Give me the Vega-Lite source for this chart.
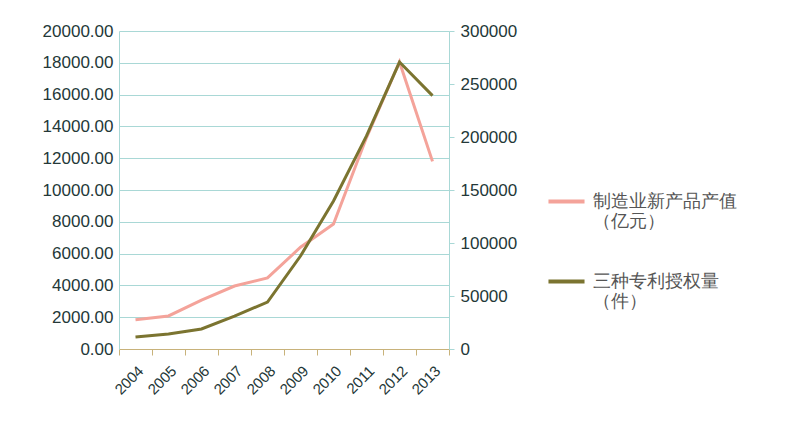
{
  "$schema": "https://vega.github.io/schema/vega-lite/v6.json",
  "width": 330,
  "height": 318,
  "padding": {"left": 42, "top": 22, "right": 5, "bottom": 5},
  "background": "white",
  "config": {
    "font": "Liberation Sans",
    "view": {"stroke": null},
    "axis": {"labelFont": "Liberation Sans", "labelColor": "#243838", "labelFontSize": 17, "gridColor": "#a9d8d6", "domainColor": "#a9d8d6", "tickColor": "#a9d8d6", "title": null}
  },
  "data": {
    "values": [
      {"year": "2004", "output": 1840, "patents": 11300},
      {"year": "2005", "output": 2080, "patents": 14100},
      {"year": "2006", "output": 3080, "patents": 18900},
      {"year": "2007", "output": 3960, "patents": 31000},
      {"year": "2008", "output": 4470, "patents": 44300},
      {"year": "2009", "output": 6400, "patents": 87700},
      {"year": "2010", "output": 7860, "patents": 139600},
      {"year": "2011", "output": 13300, "patents": 201000},
      {"year": "2012", "output": 18050, "patents": 270700},
      {"year": "2013", "output": 11800, "patents": 239000}
    ]
  },
  "encoding": {
    "x": {
      "field": "year",
      "type": "ordinal",
      "scale": {"paddingInner": 0, "paddingOuter": 0},
      "axis": {"labelAngle": -45, "labelFontSize": 15, "domainColor": "#c8b27a", "tickColor": "#c8b27a", "tickBand": "extent", "grid": false, "ticks": true, "tickSize": 6, "labelPadding": 8}
    }
  },
  "layer": [
    {
      "mark": {"type": "line", "strokeWidth": 3},
      "encoding": {
        "y": {
          "field": "output",
          "type": "quantitative",
          "scale": {"domain": [0, 20000]},
          "axis": {"values": [0, 2000, 4000, 6000, 8000, 10000, 12000, 14000, 16000, 18000, 20000], "format": ".2f", "orient": "left", "grid": true, "ticks": false, "labelPadding": 6}
        },
        "color": {
          "datum": "制造业新产品产值|（亿元）",
          "type": "nominal",
          "scale": {"domain": ["制造业新产品产值|（亿元）", "三种专利授权量|（件）"], "range": ["#f4a39a", "#7b7430"]},
          "legend": {
            "title": null,
            "symbolType": "stroke",
            "symbolStrokeWidth": 4,
            "symbolSize": 1300,
            "labelFontSize": 18,
            "labelColor": "#555555",
            "labelLimit": 300,
            "labelOffset": 6,
            "labelExpr": "split(datum.label, '|')",
            "rowPadding": 30,
            "orient": "none",
            "legendX": 427,
            "legendY": 150
          }
        }
      }
    },
    {
      "mark": {"type": "line", "strokeWidth": 3},
      "encoding": {
        "y": {
          "field": "patents",
          "type": "quantitative",
          "scale": {"domain": [0, 300000]},
          "axis": {"values": [0, 50000, 100000, 150000, 200000, 250000, 300000], "format": "d", "orient": "right", "grid": false, "ticks": true, "labelPadding": 6}
        },
        "color": {"datum": "三种专利授权量|（件）", "type": "nominal"}
      }
    }
  ],
  "resolve": {"scale": {"y": "independent"}}
}
